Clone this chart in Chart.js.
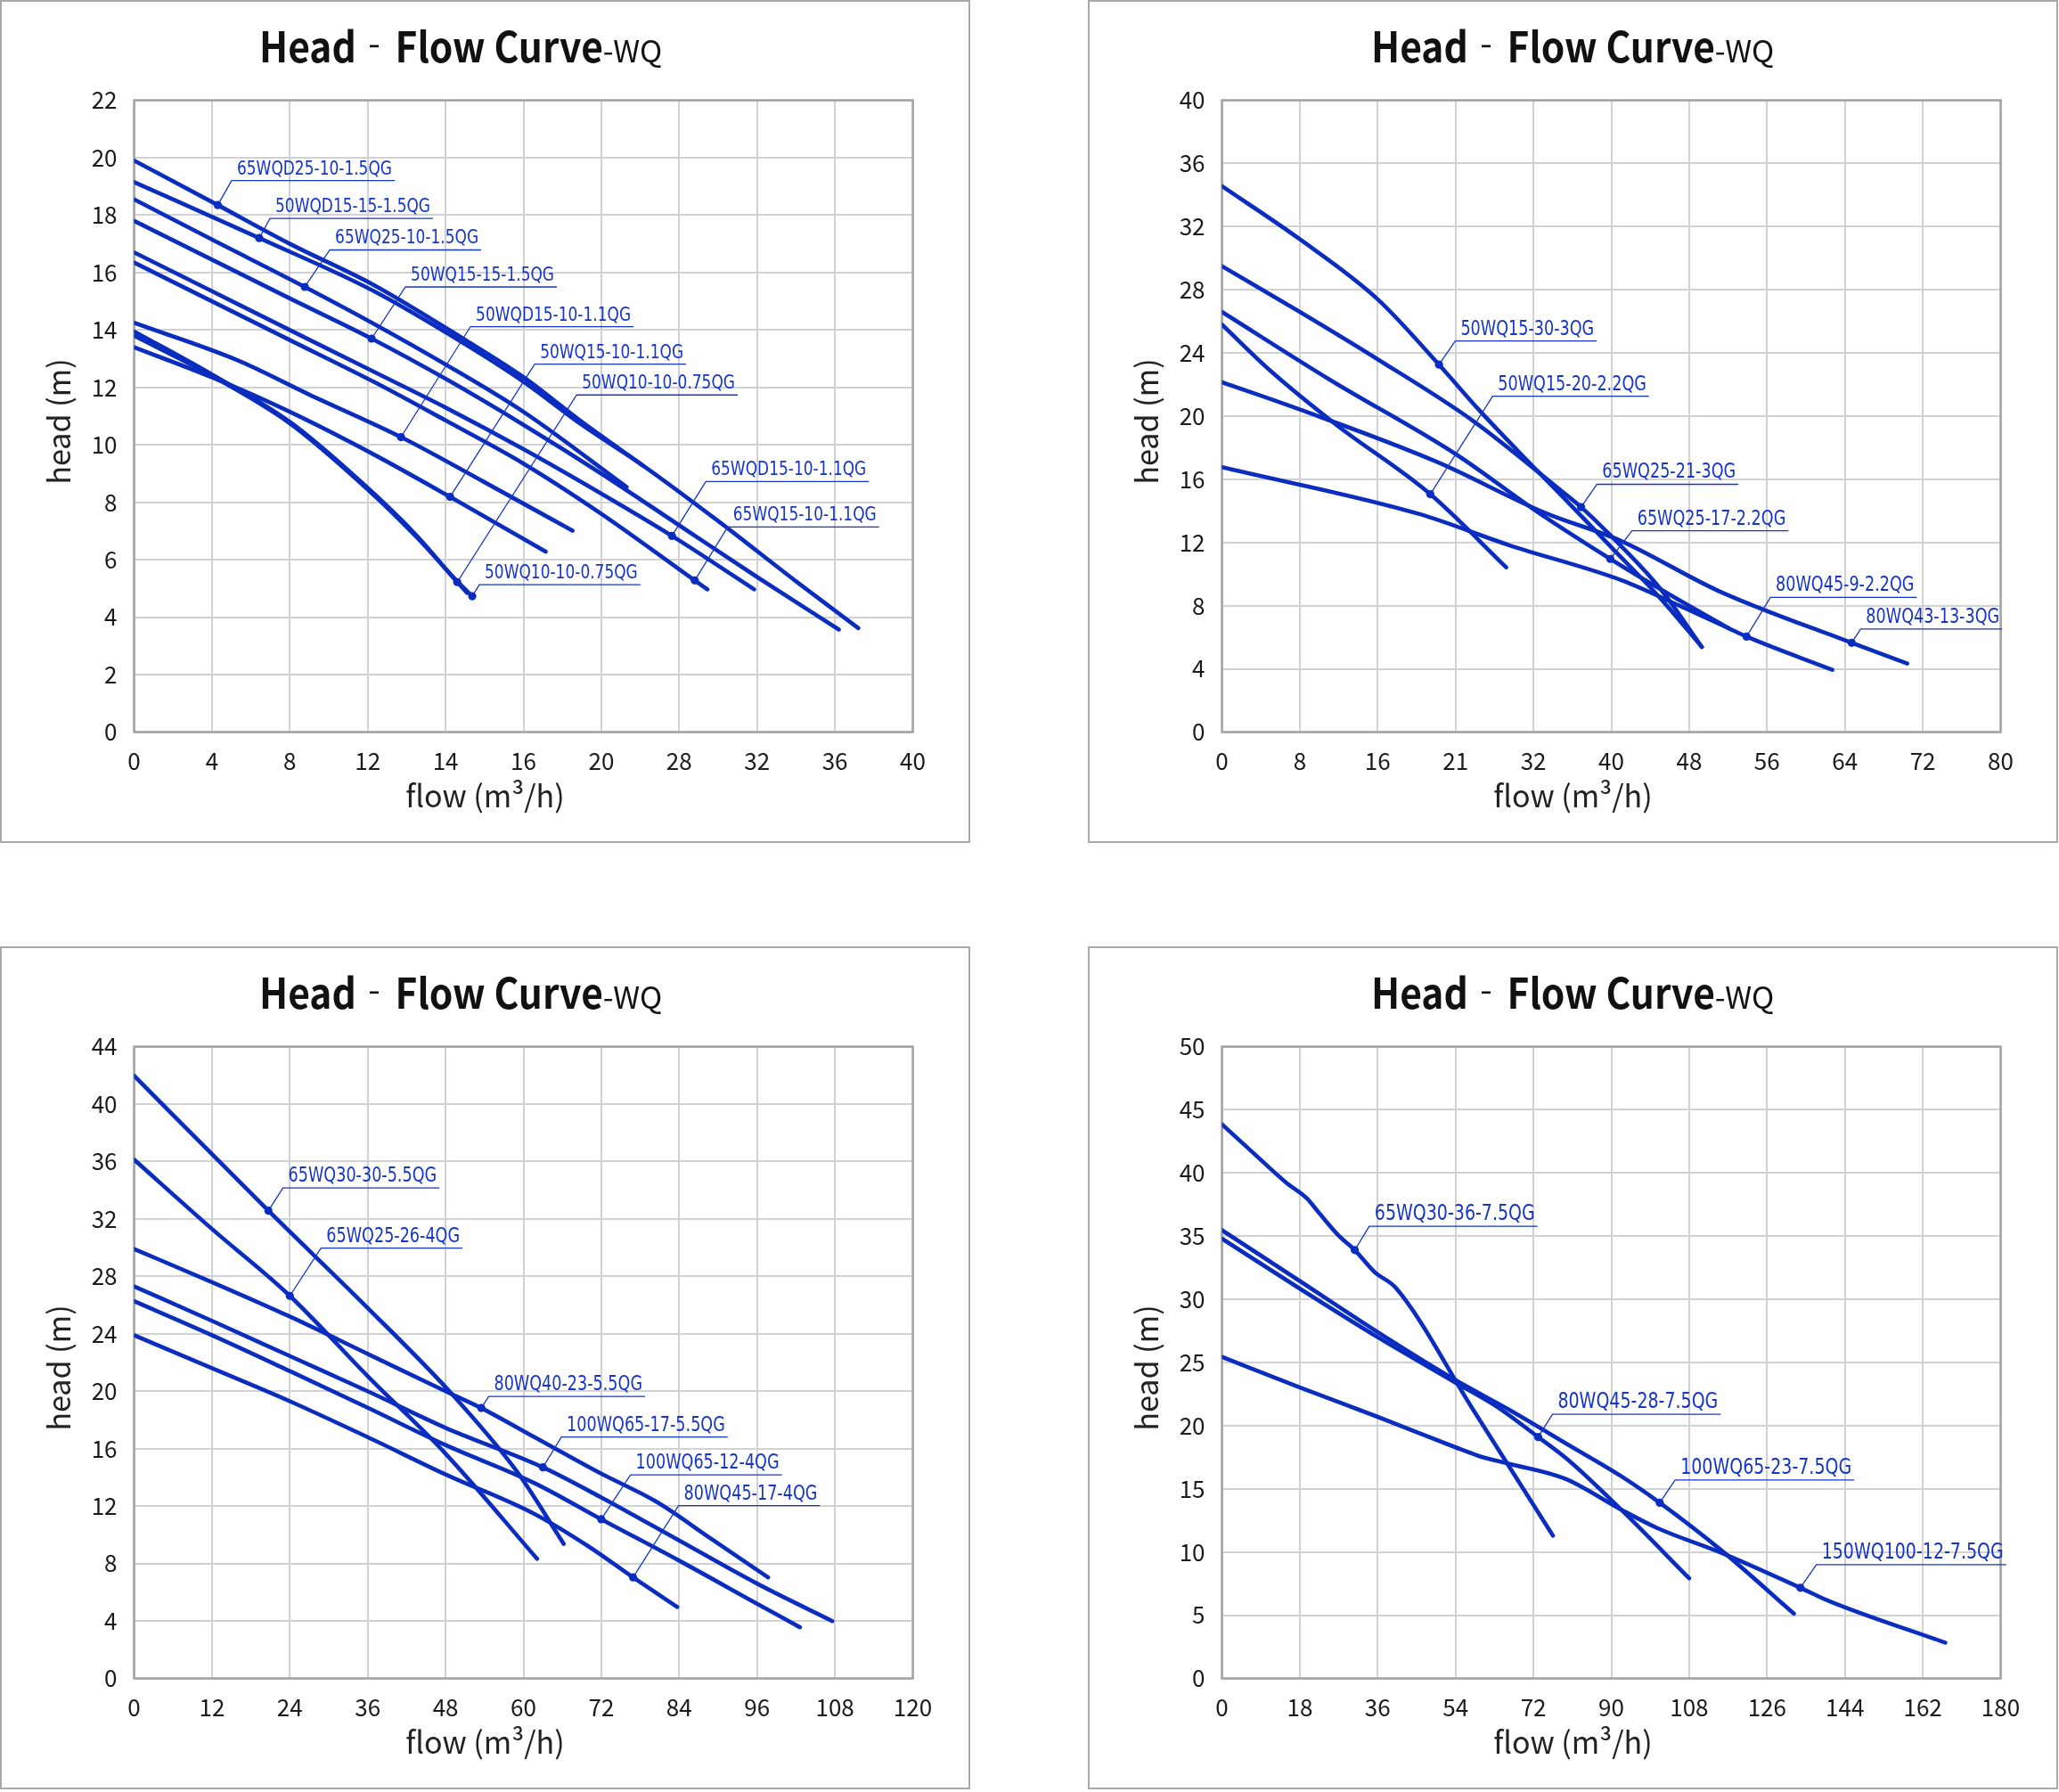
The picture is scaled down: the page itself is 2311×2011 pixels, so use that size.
<!DOCTYPE html>
<html><head><meta charset="utf-8">
<script src="https://cdn.jsdelivr.net/npm/chart.js@4.4.1/dist/chart.umd.min.js"></script>
<style>
html,body{margin:0;padding:0;background:#fff;width:2311px;height:2011px;overflow:hidden}
.p{position:absolute;width:1090px;height:948px}
canvas{display:block}
</style></head><body>
<div class="p" style="left:0;top:0"><canvas id="c1" width="1090" height="948"></canvas></div>
<div class="p" style="left:1221px;top:0"><canvas id="c2" width="1090" height="948"></canvas></div>
<div class="p" style="left:0;top:1062px"><canvas id="c3" width="1090" height="948"></canvas></div>
<div class="p" style="left:1221px;top:1062px"><canvas id="c4" width="1090" height="948"></canvas></div>
<script>
// ---------------- DATA ----------------
const titleMain = 'Head';
const titleMid = 'Flow Curve';
const titleSuffix = '-WQ';
const xTitle = 'flow (m³/h)';
const yTitle = 'head (m)';

// Panel 1
const p1XTicks = ['0','4','8','12','14','16','20','28','32','36','40'];
const p1Names = ['65WQD25-10-1.5QG','50WQD15-15-1.5QG','65WQ25-10-1.5QG','50WQ15-15-1.5QG','50WQD15-10-1.1QG','50WQ15-10-1.1QG','50WQ10-10-0.75QG','65WQD15-10-1.1QG','65WQ15-10-1.1QG','50WQ10-10-0.75QG'];
const p1Curves = [
  [[0,19.9],[4.3,18.35],[8,17.0],[12.3,15.57],[16.9,13.7],[20,12.36],[23,10.8],[26.1,9.3]],
  [[0,19.15],[6.43,17.2],[12.3,15.36],[16.9,13.55],[20,12.2],[23,10.7],[26.1,9.3],[30,7.35],[34,5.25],[37.2,3.62]],
  [[0,18.55],[4,17.15],[8.77,15.5],[12.3,14.22],[16,12.8],[20,11.15],[25.3,8.53]],
  [[0,17.8],[4,16.45],[8,15.1],[12.2,13.7],[16,12.3],[20,10.7],[24,9.0],[28,7.2],[32,5.4],[36.2,3.57]],
  [[0,14.25],[5.3,12.95],[9,11.75],[13.71,10.27],[18,8.7],[22.52,7.01]],
  [[0,13.4],[4,12.35],[8,11.15],[12.3,9.67],[16.23,8.19],[21.14,6.28]],
  [[0,13.95],[4,12.45],[8,10.8],[12,8.5],[14.5,6.85],[16.6,5.22],[17.1,4.85]],
  [[0,16.7],[4,15.35],[8,14.0],[12.3,12.55],[16,11.3],[20,9.85],[24,8.3],[27.63,6.83],[31.85,4.97]],
  [[0,16.35],[4,15.0],[8,13.65],[12.3,12.2],[16,10.85],[20,9.35],[24,7.6],[28.8,5.28],[29.45,4.97]],
  [[0,13.8],[4,12.4],[8,10.75],[12,8.45],[14.5,6.8],[16.6,5.25],[17.37,4.73]]
];
const p1LabelPoint = [1,1,2,3,3,4,5,7,7,6];

// Panel 2
const p2XTicks = ['0','8','16','21','32','40','48','56','64','72','80'];
const p2Names = ['50WQ15-30-3QG','50WQ15-20-2.2QG','65WQ25-21-3QG','65WQ25-17-2.2QG','80WQ45-9-2.2QG','80WQ43-13-3QG'];
const p2Curves = [
  [[0,34.56],[8,31.2],[16,27.4],[22.3,23.26],[26.4,20.4],[30.4,17.8],[35,14.9],[40,11.7],[45,8.5],[49.3,5.39]],
  [[0,25.8],[5,22.86],[11.75,19.45],[21.4,15.06],[29.2,10.43]],
  [[0,29.5],[8,26.6],[16,23.6],[25.8,19.7],[35,15.2],[36.9,14.24],[40,12.4],[45,9.1],[49.3,5.39]],
  [[0,26.6],[11.1,22.3],[24,17.6],[32.5,13.9],[39.9,10.96],[46,8.7],[52.06,6.57]],
  [[0,16.77],[20.3,13.8],[29.5,11.83],[41.1,9.6],[47,8.0],[52.06,6.57],[53.9,6.04],[62.7,3.94]],
  [[0,22.15],[8.1,20.4],[22.1,17.1],[33.1,13.9],[41,12.1],[51,8.94],[64.7,5.65],[70.4,4.34]]
];
const p2LabelPoint = [3,3,5,4,6,6];

// Panel 3
const p3XTicks = ['0','12','24','36','48','60','72','84','96','108','120'];
const p3Names = ['65WQ30-30-5.5QG','65WQ25-26-4QG','80WQ40-23-5.5QG','100WQ65-17-5.5QG','100WQ65-12-4QG','80WQ45-17-4QG'];
const p3Curves = [
  [[0,41.97],[20.7,32.57],[36,25.8],[48.9,19.84],[59,14.4],[66.2,9.37]],
  [[0,36.13],[12,31.3],[24,26.64],[36.1,21.0],[48,15.65],[62.1,8.33]],
  [[0,29.9],[12,27.6],[24,25.2],[36,22.6],[48,20.0],[53.5,18.83],[61.7,16.8],[71.8,14.3],[80.5,12.3],[89,9.7],[97.7,7.03]],
  [[0,27.3],[12,24.9],[24,22.45],[36,20.0],[48,17.45],[63,14.7],[72,12.6],[84,9.6],[96,6.6],[107.6,3.99]],
  [[0,26.27],[12,23.9],[24,21.4],[36,18.85],[48,16.25],[61.7,13.6],[72,11.08],[84,8.2],[96,5.2],[102.6,3.56]],
  [[0,23.9],[12,21.6],[24,19.3],[36,16.8],[48,14.2],[61.7,11.45],[70,9.2],[76.9,7.03],[83.7,4.97]]
];
const p3LabelPoint = [1,2,5,5,6,7];

// Panel 4
const p4XTicks = ['0','18','36','54','72','90','108','126','144','162','180'];
const p4Names = ['65WQ30-36-7.5QG','80WQ45-28-7.5QG','100WQ65-23-7.5QG','150WQ100-12-7.5QG'];
const p4Curves = [
  [[0,43.85],[7.2,41.6],[14.8,39.25],[19.6,38.0],[22.3,36.9],[27.1,35.0],[30.7,33.9],[35.3,32.15],[40.2,30.9],[58,21.3],[76.5,11.3]],
  [[0,34.8],[18.2,30.8],[36,27.0],[54,23.4],[64,21.4],[73.1,19.1],[80,17.3],[92.3,13.35],[108,7.92]],
  [[0,35.47],[18.2,31.4],[36,27.4],[54,23.6],[66.2,21.3],[80,18.5],[92.3,16.0],[101.2,13.9],[115.7,10.06],[132.2,5.13]],
  [[0,25.44],[18.2,23.0],[36,20.7],[53.9,18.3],[59.4,17.6],[66.2,17.0],[79.3,15.8],[92.3,13.35],[100.6,11.9],[115.7,9.9],[133.7,7.17],[140.4,6.11],[167.2,2.83]]
];
const p4LabelPoint = [6,5,7,10];

// ---------------- LAYOUT (pixel offsets of label leaders, not data) ----------------
const p1LabelOffset = [[15.5,-27.5],[12,-22],[28,-41.5],[38,-58],[78,-124],[95,-149],[134,-210],[38,-61],[37,-60],[8,-13]];
const p2LabelOffset = [[18.3,-26.5],[70,-110],[17.7,-25.6],[24.3,-31.7],[26.7,-44],[10,-15.4]];
const p3LabelOffset = [[16.3,-25.6],[35,-53.6],[8.3,-13],[20.7,-34],[32.7,-49.8],[51,-80.6]];
const p4LabelOffset = [[16.3,-26.6],[16,-25.6],[17.3,-25.6],[18,-26]];

const W = 1090, H = 948;
const AREA = {left:150.5, right:1024.5, top:112.5, bottom:821.5};
const LINE_BLUE = '#0a2cbf';
const TEXT_BLUE = '#1434cc';
const CJK = "'Noto Sans CJK SC','Noto Sans',sans-serif";

function sText(ctx, t, x, y, sy){
  ctx.save(); ctx.translate(x,y); ctx.scale(1,sy); ctx.fillText(t,0,0); ctx.restore();
}

function makeDeco(P){
  return {
    id:'deco',
    beforeDraw(chart){
      const c = chart.ctx;
      c.save();
      c.fillStyle='#fff'; c.fillRect(0,0,chart.width,chart.height);
      c.strokeStyle='#a9a9a9'; c.lineWidth=2; c.strokeRect(1,1,1087,944);
      c.restore();
    },
    beforeDatasetsDraw(chart){
      const c = chart.ctx, a = chart.chartArea;
      c.save(); c.strokeStyle='#a3a3a3'; c.lineWidth=2.5;
      c.strokeRect(a.left,a.top,a.right-a.left,a.bottom-a.top);
      c.restore();
    },
    afterDatasetsDraw(chart){
      const c = chart.ctx, xs = chart.scales.x, ys = chart.scales.y;
      c.save();
      c.font = P.labelSize + "px 'DejaVu Sans'";
      c.textAlign='left'; c.textBaseline='alphabetic';
      P.names.forEach((name,i)=>{
        const pt = P.curves[i][P.labelPoint[i]];
        const px = xs.getPixelForValue(pt[0]), py = ys.getPixelForValue(pt[1]);
        const ux = px + P.offsets[i][0], uy = py + P.offsets[i][1];
        const tw = c.measureText(name).width;
        c.strokeStyle = TEXT_BLUE; c.lineWidth = 1.3;
        c.beginPath(); c.moveTo(px,py); c.lineTo(ux,uy); c.lineTo(ux+tw+9,uy); c.stroke();
        c.fillStyle = LINE_BLUE; c.beginPath(); c.arc(px,py,4.6,0,Math.PI*2); c.fill();
        c.fillStyle = TEXT_BLUE; sText(c,name,ux+6,uy-7,1.28);
      });
      c.restore();
    },
    afterDraw(chart){
      const c = chart.ctx;
      c.save();
      c.fillStyle='#111'; c.textAlign='left'; c.textBaseline='alphabetic';
      const tx = P.titleX, ty = 69.5;
      c.font = "bold 42.5px " + CJK;
      sText(c, titleMain, tx, ty, 1.1);
      c.fillRect(tx+124, 50.5, 10, 2.6);
      sText(c, titleMid, tx+152.6, ty, 1.1);
      const mw = c.measureText(titleMid).width;
      c.font = "34px " + CJK;
      sText(c, titleSuffix, tx+152.6+mw, ty, 1.0);
      // axis titles
      c.fillStyle='#222';
      c.font = "34px " + CJK;
      c.textAlign='center';
      c.fillText(xTitle, 544.5, 906);
      c.save(); c.translate(79, 473); c.rotate(-Math.PI/2); c.fillText(yTitle,0,0); c.restore();
      c.restore();
    }
  };
}

function buildPanel(id, P){
  const datasets = P.curves.map((pts,i)=>({
    label: P.names[i],
    data: pts.map(p=>({x:p[0], y:p[1]})),
    borderColor: LINE_BLUE, backgroundColor: LINE_BLUE,
    borderWidth: 4.6, pointRadius: 0, pointHoverRadius: 0,
    cubicInterpolationMode: 'monotone', fill: false,
    borderCapStyle:'round', borderJoinStyle:'round'
  }));
  const tickFont = {family: CJK, size: 26};
  new Chart(document.getElementById(id), {
    type:'line',
    data:{datasets},
    options:{
      responsive:false, animation:false, devicePixelRatio:1,
      events: [],
      layout:{padding:{top:AREA.top, left:0, right:W-AREA.right, bottom:0}},
      plugins:{legend:{display:false}, tooltip:{enabled:false}, title:{display:false}},
      scales:{
        x:{type:'linear', min:0, max:P.xStep*10,
          afterFit:(s)=>{ s.height = H - AREA.bottom; },
          ticks:{stepSize:P.xStep, autoSkip:false, maxRotation:0, padding:17,
            color:'#1a1a1a', font:tickFont,
            callback:(v)=>{ const k=Math.round(v/P.xStep); return P.xTicks[k]; }},
          grid:{color:'#d2d2d2', lineWidth:2, drawTicks:false},
          border:{display:false}
        },
        y:{type:'linear', min:0, max:P.yMax,
          afterFit:(s)=>{ s.width = AREA.left; },
          ticks:{stepSize:P.yStep, autoSkip:false, padding:19, color:'#1a1a1a', font:tickFont},
          grid:{color:'#d2d2d2', lineWidth:2, drawTicks:false},
          border:{display:false}
        }
      }
    },
    plugins:[makeDeco(P)]
  });
}

buildPanel('c1', {names:p1Names, curves:p1Curves, labelPoint:p1LabelPoint, offsets:p1LabelOffset, xTicks:p1XTicks, xStep:4, yMax:22, yStep:2, titleX:291, labelSize:17});
buildPanel('c2', {names:p2Names, curves:p2Curves, labelPoint:p2LabelPoint, offsets:p2LabelOffset, xTicks:p2XTicks, xStep:8, yMax:40, yStep:4, titleX:318, labelSize:17.6});
buildPanel('c3', {names:p3Names, curves:p3Curves, labelPoint:p3LabelPoint, offsets:p3LabelOffset, xTicks:p3XTicks, xStep:12, yMax:44, yStep:4, titleX:291, labelSize:17.6});
buildPanel('c4', {names:p4Names, curves:p4Curves, labelPoint:p4LabelPoint, offsets:p4LabelOffset, xTicks:p4XTicks, xStep:18, yMax:50, yStep:5, titleX:318, labelSize:19});
</script>
</body></html>
